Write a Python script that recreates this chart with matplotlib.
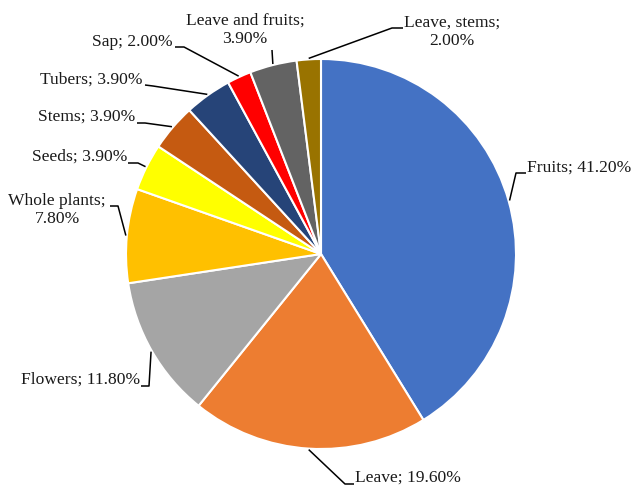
import numpy as np
import matplotlib.pyplot as plt

# Data
labels = ['Fruits', 'Leave', 'Flowers', 'Whole plants', 'Seeds', 'Stems',
          'Tubers', 'Sap', 'Leave and fruits', 'Leave, stems']
values = [41.2, 19.6, 11.8, 7.8, 3.9, 3.9, 3.9, 2.0, 3.9, 2.0]
colors = ['#4472C4', '#ED7D31', '#A5A5A5', '#FFC000', '#FFFF00', '#C55A11',
          '#264478', '#FF0000', '#636363', '#997300']

H = 488
cx, cy, R = 321, 254, 195

# label layout in pixel coords (x, y from top): text pos, alignment, leader elbow + end
layout = {
    'Fruits':           ((527, 168), 'left',   [(516, 173), (526, 173)]),
    'Leave':            ((355, 478), 'left',   [(345, 484), (354, 484)]),
    'Flowers':          ((140, 380), 'right',  [(149, 386), (141, 386)]),
    'Whole plants':     ((57, 210),  'center', [(118, 206), (110, 206)]),
    'Seeds':            ((127, 157), 'right',  [(138, 163), (128, 163)]),
    'Stems':            ((135, 117), 'right',  [(145, 123), (137, 123)]),
    'Tubers':           ((143, 80),  'right',  [(153, 86), (145, 85)]),
    'Sap':              ((173, 42),  'right',  [(184, 47), (175, 47)]),
    'Leave and fruits': ((245, 30),  'center', [(272, 50)]),
    'Leave, stems':     ((452, 32),  'center', [(392, 28), (403, 28)]),
}
multiline = ['Whole plants', 'Leave and fruits', 'Leave, stems']

plt.rcParams['font.family'] = ['Liberation Serif', 'DejaVu Serif']

fig = plt.figure(figsize=(6.33, 4.88), dpi=100)
ax = fig.add_axes([0, 0, 1, 1])

wedges, _ = ax.pie(values, colors=colors, startangle=90, counterclock=False,
                   center=(cx, H - cy), radius=R,
                   wedgeprops=dict(edgecolor='white', linewidth=1.5))
ax.set_xlim(0, 633)
ax.set_ylim(0, H)
ax.set_aspect('equal')
ax.axis('off')

for w, lab, val in zip(wedges, labels, values):
    mid = np.deg2rad((w.theta1 + w.theta2) / 2)
    sx = cx + (R + 1) * np.cos(mid)
    sy = (H - cy) + (R + 1) * np.sin(mid)
    (tx, ty), ha, pts = layout[lab]
    xs = [sx] + [p[0] for p in pts]
    ys = [sy] + [H - p[1] for p in pts]
    ax.plot(xs, ys, color='black', lw=1.1, solid_capstyle='butt')
    sep = '\n' if lab in multiline else ' '
    txt = f'{lab};{sep}{val:.2f}%'
    ax.text(tx, H - ty, txt, ha=ha, va='center', fontsize=12.6,
            multialignment='center', linespacing=1.2, color='#1a1a1a')

plt.savefig('out.png', dpi=100)
